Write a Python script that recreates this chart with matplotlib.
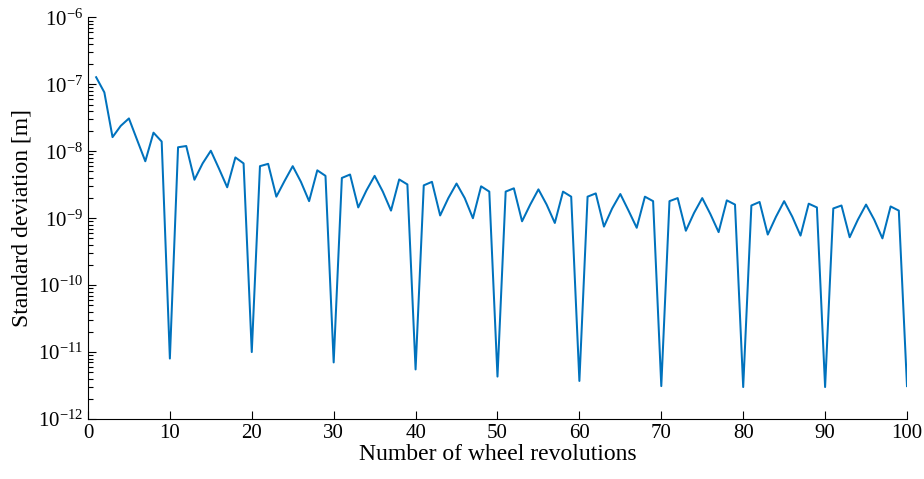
import matplotlib
matplotlib.use("Agg")
import matplotlib.pyplot as plt
from matplotlib.ticker import LogLocator, FixedLocator

plt.rcParams["font.family"] = ["Liberation Serif", "DejaVu Serif"]
plt.rcParams["mathtext.fontset"] = "custom"
plt.rcParams["mathtext.rm"] = "Liberation Serif"
plt.rcParams["mathtext.it"] = "Liberation Serif:italic"

revolutions = list(range(1, 101))
std_dev = [
    1.28e-7, 7.6e-8, 1.63e-8, 2.4e-8, 3.1e-8, 1.48e-8, 7.1e-9, 1.9e-8, 1.4e-8, 8.0e-12,
    1.15e-8, 1.2e-8, 3.76e-9, 6.6e-9, 1.02e-8, 5.5e-9, 2.9e-9, 8.1e-9, 6.6e-9, 1.0e-11,
    6.0e-9, 6.5e-9, 2.1e-9, 3.6e-9, 6.0e-9, 3.5e-9, 1.8e-9, 5.2e-9, 4.3e-9, 7.0e-12,
    4.0e-9, 4.5e-9, 1.45e-9, 2.6e-9, 4.3e-9, 2.5e-9, 1.3e-9, 3.8e-9, 3.2e-9, 5.5e-12,
    3.1e-9, 3.5e-9, 1.1e-9, 2.0e-9, 3.3e-9, 2.0e-9, 1.0e-9, 3.0e-9, 2.5e-9, 4.3e-12,
    2.5e-9, 2.8e-9, 9.0e-10, 1.6e-9, 2.7e-9, 1.6e-9, 8.5e-10, 2.5e-9, 2.1e-9, 3.7e-12,
    2.1e-9, 2.35e-9, 7.5e-10, 1.4e-9, 2.3e-9, 1.3e-9, 7.2e-10, 2.1e-9, 1.8e-9, 3.1e-12,
    1.8e-9, 2.0e-9, 6.5e-10, 1.2e-9, 2.0e-9, 1.15e-9, 6.2e-10, 1.85e-9, 1.6e-9, 3.0e-12,
    1.55e-9, 1.75e-9, 5.7e-10, 1.05e-9, 1.8e-9, 1.05e-9, 5.5e-10, 1.65e-9, 1.45e-9, 3.0e-12,
    1.4e-9, 1.55e-9, 5.2e-10, 9.5e-10, 1.6e-9, 9.5e-10, 5.0e-10, 1.5e-9, 1.3e-9, 3.1e-12,
]
x_ticks = list(range(0, 101, 10))
y_decades = [-12, -11, -10, -9, -8, -7, -6]

fig = plt.figure(figsize=(9.24, 4.79), dpi=100)
ax = fig.add_axes([0.0952, 0.1253, 0.8864, 0.8382])
ax.plot(revolutions, std_dev, color="#0072BD", lw=1.45)

ax.set_yscale("log")
ax.set_xlim(0, 100)
ax.set_ylim(1e-12, 1e-6)
ax.set_xticks(x_ticks)
ax.yaxis.set_major_locator(FixedLocator([10.0 ** d for d in y_decades]))
ax.set_yticklabels([f"$10^{{{d}}}$" for d in y_decades])
ax.yaxis.set_minor_locator(LogLocator(base=10, subs=range(2, 10), numticks=20))

for s in ["top", "right"]:
    ax.spines[s].set_visible(False)
for s in ["left", "bottom"]:
    ax.spines[s].set_linewidth(0.8)
ax.tick_params(which="both", direction="in", labelsize=15, width=0.8)
ax.tick_params(which="major", length=6)
ax.tick_params(which="minor", length=3.5)

ax.set_xlabel("Number of wheel revolutions", fontsize=17, labelpad=1)
ax.set_ylabel("Standard deviation [m]", fontsize=17, labelpad=4)

fig.savefig("out.png", dpi=100)
